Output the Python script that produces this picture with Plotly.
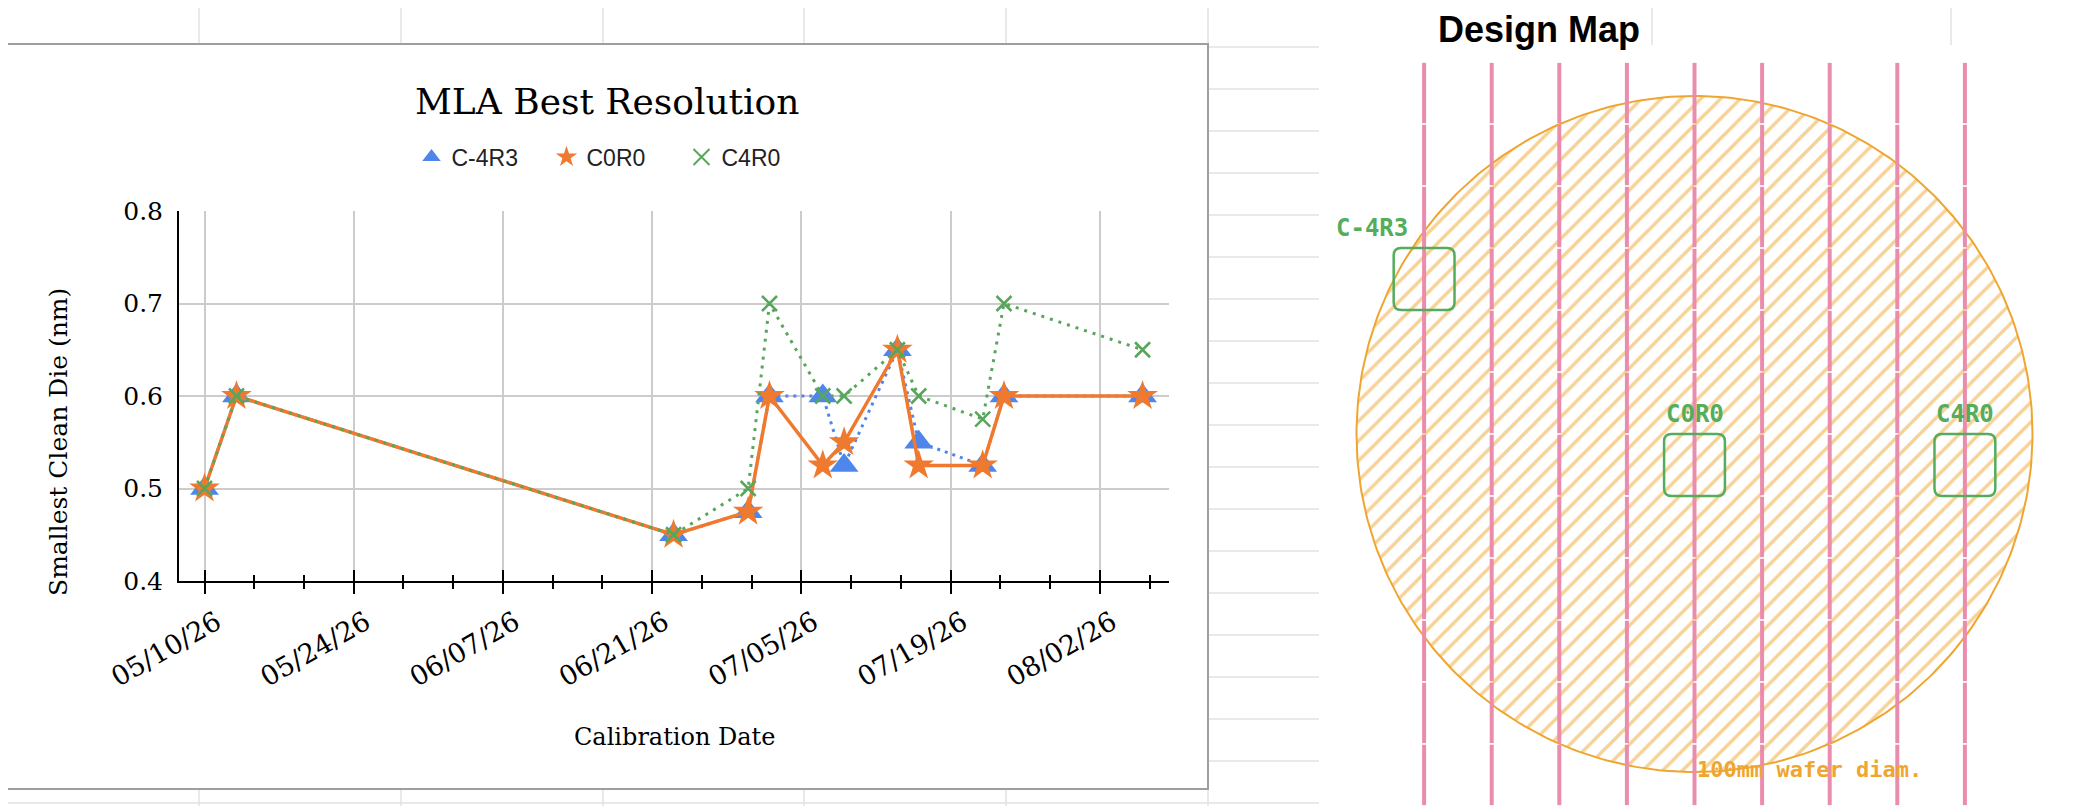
import numpy as np
import plotly.graph_objects as go

W, H = 2084, 806
OFF = 8  # the page body margin shifts the figure by 8 px

# ---- chart data ----
DATES = ['2026-05-10', '2026-05-13', '2026-06-23', '2026-06-30', '2026-07-02', '2026-07-07',
         '2026-07-09', '2026-07-14', '2026-07-16', '2026-07-22', '2026-07-24', '2026-08-06']
C_4R3 = [0.5, 0.6, 0.45, 0.475, 0.6, 0.6, 0.525, 0.65, 0.55, 0.525, 0.6, 0.6]
C0R0 = [0.5, 0.6, 0.45, 0.475, 0.6, 0.525, 0.55, 0.65, 0.525, 0.525, 0.6, 0.6]
C4R0 = [0.5, 0.6, 0.45, 0.5, 0.7, 0.6, 0.6, 0.65, 0.6, 0.575, 0.7, 0.65]
SERIES = ['C-4R3', 'C0R0', 'C4R0']

# ---- design map data (mm) ----
WAFER_DIAM_MM = 100
DIE_W_MM = 10
DIE_H_MM = 9.17
LANE_COLS = [-4, -3, -2, -1, 0, 1, 2, 3, 4]
DIE_NAMES = ['C-4R3', 'C0R0', 'C4R0']
DIE_COL = [-4, 0, 4]
DIE_ROW = [3, 0, 0]

BLUE = '#4F86EC'
ORANGE = '#EF7A2F'
GREEN = '#58A65C'
PINK = '#EA8CAD'
WAFER = '#EFA630'
MAPGREEN = '#55AD5B'
SERIF = 'DejaVu Serif'
SANS = 'Liberation Sans'
MONO = 'DejaVu Sans Mono'


def fx(px):
    return (px - OFF) / W


def fy(py):
    return 1 - (py - OFF) / H


DAY_MS = 86400000
PX_PER_MM = 6.76
MAP_CX, MAP_CY = 1694.5, 434

fig = go.Figure()

# chart series
fig.add_trace(go.Scatter(x=DATES, y=C_4R3, mode='lines+markers', showlegend=False,
                         line=dict(color=BLUE, width=3, dash='3px,5px'),
                         marker=dict(symbol='triangle-up', size=25, color=BLUE)))
fig.add_trace(go.Scatter(x=DATES, y=C0R0, mode='lines+markers', showlegend=False,
                         line=dict(color=ORANGE, width=3.5),
                         marker=dict(symbol='star', size=23, color=ORANGE)))
fig.add_trace(go.Scatter(x=DATES, y=C4R0, mode='lines+markers', showlegend=False,
                         line=dict(color=GREEN, width=3, dash='3px,6px'),
                         marker=dict(symbol='x-thin', size=15, color=GREEN,
                                     line=dict(width=2.5, color=GREEN))))

# legend entries (markers only)
for name, sym, col in zip(SERIES, ['triangle-up', 'star', 'x-thin'], [BLUE, ORANGE, GREEN]):
    fig.add_trace(go.Scatter(x=[None], y=[None], mode='markers', name=name,
                             marker=dict(symbol=sym, size=16, color=col,
                                         line=dict(width=2 if sym == 'x-thin' else 0, color=col))))

# empty trace for the inside-tick overlay axis
fig.add_trace(go.Scatter(x=[DATES[0]], y=[None], xaxis='x3', yaxis='y',
                         showlegend=False, hoverinfo='skip'))

# wafer outline with hatch
theta = np.linspace(0, 2 * np.pi, 361)
R = WAFER_DIAM_MM / 2
fig.add_trace(go.Scatter(x=R * np.cos(theta), y=R * np.sin(theta), xaxis='x2', yaxis='y2',
                         mode='lines', fill='toself', showlegend=False, hoverinfo='skip',
                         line=dict(color=WAFER, width=2),
                         fillcolor='rgba(0,0,0,0)',
                         fillpattern=dict(shape='/', size=14, solidity=0.24,
                                          fgcolor=WAFER, bgcolor='rgba(0,0,0,0)')))

# pink lanes, broken at each die row edge
gap = 0.12
row_edges = np.arange(-7, 7) * DIE_H_MM
lx, ly = [], []
for c in LANE_COLS:
    for a, b in zip(row_edges[:-1], row_edges[1:]):
        lx += [c * DIE_W_MM, c * DIE_W_MM, None]
        ly += [a + gap, b - gap, None]
fig.add_trace(go.Scatter(x=lx, y=ly, xaxis='x2', yaxis='y2', mode='lines',
                         line=dict(color=PINK, width=4), showlegend=False, hoverinfo='skip'))

shapes = []
# spreadsheet grid
for k in range(19):
    y = 47 + 42 * k
    shapes.append(dict(type='line', xref='paper', yref='paper', x0=0, x1=1, y0=fy(y), y1=fy(y),
                       line=dict(color='#E2E2E2', width=1.5), layer='below'))
for x in [199, 401, 603, 804, 1006, 1208, 1652, 1951]:
    shapes.append(dict(type='line', xref='paper', yref='paper', x0=fx(x), x1=fx(x), y0=0, y1=1,
                       line=dict(color='#E2E2E2', width=1.5), layer='below'))
# chart box and map image background
shapes.append(dict(type='rect', xref='paper', yref='paper', x0=fx(4), x1=fx(1208), y0=fy(789), y1=fy(44),
                   fillcolor='white', line=dict(color='#9E9E9E', width=2), layer='below'))
shapes.append(dict(type='rect', xref='paper', yref='paper', x0=fx(1319), x1=1, y0=0, y1=fy(45),
                   fillcolor='white', line=dict(width=0), layer='below'))

annotations = [
    dict(text='MLA Best Resolution', x=fx(607), y=fy(101), xref='paper', yref='paper',
         xanchor='center', yanchor='middle',
         showarrow=False, font=dict(family=SERIF, size=36, color='black')),
    dict(text='Smallest Clean Die (nm)', x=fx(58), y=fy(442), xref='paper', yref='paper',
         xanchor='center', yanchor='middle',
         textangle=-90, showarrow=False, font=dict(family=SERIF, size=25, color='black')),
    dict(text='Calibration Date', x=fx(674), y=fy(737), xref='paper', yref='paper',
         xanchor='center', yanchor='middle',
         showarrow=False, font=dict(family=SERIF, size=24, color='black')),
    dict(text='<b>Design Map</b>', x=fx(1539), y=fy(8), xref='paper', yref='paper',
         xanchor='center', yanchor='top', borderpad=0,
         showarrow=False, font=dict(family=SANS, size=36, color='black')),
    dict(text='<b>100mm wafer diam.</b>', x=0, y=-49.7, xref='x2', yref='y2',
         xanchor='left', yanchor='middle',
         showarrow=False, font=dict(family=MONO, size=22, color=WAFER)),
]

# die boxes and labels
rr = 1.1
for name, c, r in zip(DIE_NAMES, DIE_COL, DIE_ROW):
    x0, x1 = c * DIE_W_MM - 4.5, c * DIE_W_MM + 4.5
    y0, y1 = (r - 1) * DIE_H_MM, r * DIE_H_MM
    path = (f'M {x0 + rr},{y0} L {x1 - rr},{y0} Q {x1},{y0} {x1},{y0 + rr} '
            f'L {x1},{y1 - rr} Q {x1},{y1} {x1 - rr},{y1} L {x0 + rr},{y1} '
            f'Q {x0},{y1} {x0},{y1 - rr} L {x0},{y0 + rr} Q {x0},{y0} {x0 + rr},{y0} Z')
    shapes.append(dict(type='path', xref='x2', yref='y2', path=path,
                       line=dict(color=MAPGREEN, width=2.5)))
    left = c < 0
    annotations.append(dict(text=f'<b>{name}</b>', x=x0 + 2.4 if left else x0, y=y1,
                            xref='x2', yref='y2', xanchor='right' if left else 'left',
                            yanchor='bottom', yshift=4, showarrow=False,
                            font=dict(family=MONO, size=24, color=MAPGREEN)))

tick_common = dict(type='date', range=['2026-05-07 14:35', '2026-08-08 11:30'],
                   tick0='2026-05-10', dtick=14 * DAY_MS)

map_left, map_top = 1319, 45
map_right, map_bottom = W + OFF, H + OFF

fig.update_layout(
    width=W, height=H,
    margin=dict(l=0, r=0, t=0, b=0, pad=0, autoexpand=False),
    paper_bgcolor='white',
    plot_bgcolor='rgba(0,0,0,0)',
    shapes=shapes,
    annotations=annotations,
    legend=dict(orientation='h', x=fx(614), xanchor='center', y=fy(157), yanchor='middle',
                font=dict(family=SANS, size=23, color='#222222'),
                bgcolor='rgba(0,0,0,0)', entrywidth=90, itemclick=False),
    xaxis=dict(**tick_common, domain=[fx(179), fx(1169)], anchor='y',
               tickformat='%m/%d/%y', tickangle=-30,
               ticks='outside', ticklen=11, tickwidth=2, tickcolor='black',
               ticklabelstandoff=2, ticklabelshift=12,
               showline=True, linecolor='black', linewidth=2,
               showgrid=True, gridcolor='#CCCCCC', gridwidth=2, zeroline=False,
               tickfont=dict(family=SERIF, size=27, color='black'),
               minor=dict(ticks='outside', ticklen=6, tickwidth=2, tickcolor='black',
                          tick0='2026-05-10', dtick=14 * DAY_MS / 3, showgrid=False)),
    xaxis3=dict(**tick_common, overlaying='x', anchor='y', side='bottom',
                ticks='inside', ticklen=11, tickwidth=2, tickcolor='black',
                showticklabels=False, showgrid=False, showline=False, zeroline=False,
                minor=dict(ticks='inside', ticklen=6, tickwidth=2, tickcolor='black',
                           tick0='2026-05-10', dtick=14 * DAY_MS / 3, showgrid=False)),
    yaxis=dict(domain=[fy(581), fy(211)], anchor='x', range=[0.4, 0.8],
               tick0=0.4, dtick=0.1, tickformat='.1f', ticks='', ticklabelstandoff=9,
               showline=True, linecolor='black', linewidth=2,
               showgrid=True, gridcolor='#CCCCCC', gridwidth=2, zeroline=False,
               tickfont=dict(family=SERIF, size=25, color='black')),
    xaxis2=dict(domain=[fx(map_left), fx(map_right)], anchor='y2',
                range=[(map_left - MAP_CX) / PX_PER_MM, (map_right - MAP_CX) / PX_PER_MM],
                visible=False),
    yaxis2=dict(domain=[fy(map_bottom), fy(map_top)], anchor='x2',
                range=[(MAP_CY - map_bottom) / PX_PER_MM, (MAP_CY - map_top) / PX_PER_MM],
                visible=False),
)

fig.write_html('out.html')
